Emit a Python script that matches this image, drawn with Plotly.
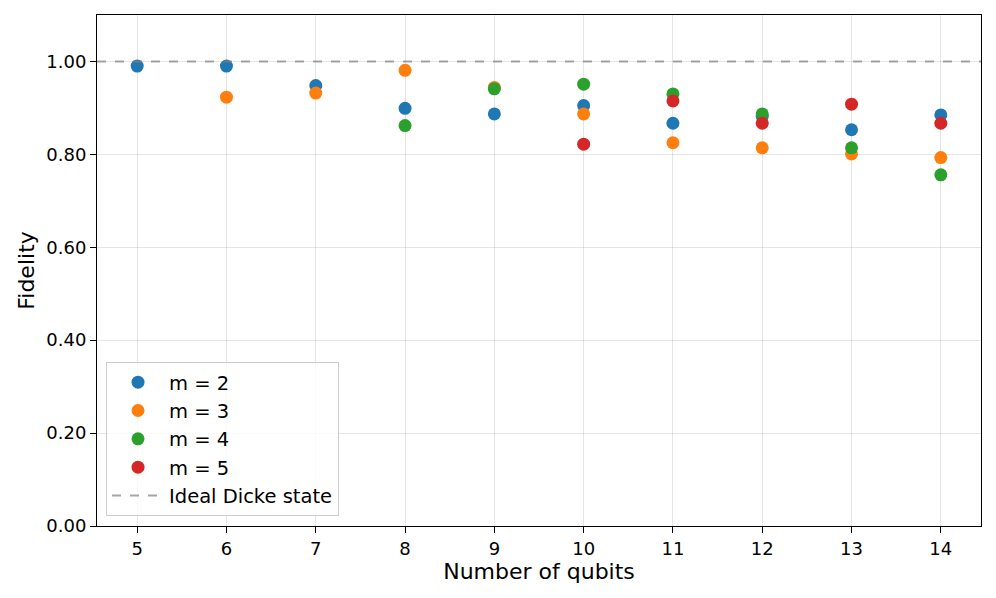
import plotly.graph_objects as go

qubits_m2 = [5, 6, 7, 8, 9, 10, 11, 12, 13, 14]
fid_m2 = [0.990, 0.990, 0.948, 0.899, 0.887, 0.905, 0.867, 0.882, 0.853, 0.885]
qubits_m3 = [6, 7, 8, 9, 10, 11, 12, 13, 14]
fid_m3 = [0.923, 0.932, 0.981, 0.944, 0.887, 0.825, 0.814, 0.801, 0.793]
qubits_m4 = [8, 9, 10, 11, 12, 13, 14]
fid_m4 = [0.862, 0.941, 0.951, 0.930, 0.887, 0.814, 0.756]
qubits_m5 = [10, 11, 12, 13, 14]
fid_m5 = [0.822, 0.915, 0.867, 0.908, 0.867]
ideal = 1.0

series = [
    ("m = 2", qubits_m2, fid_m2, "#1f77b4"),
    ("m = 3", qubits_m3, fid_m3, "#ff7f0e"),
    ("m = 4", qubits_m4, fid_m4, "#2ca02c"),
    ("m = 5", qubits_m5, fid_m5, "#d62728"),
]

font = "DejaVu Sans"
fig = go.Figure()
for name, xs, ys, col in series:
    fig.add_trace(go.Scatter(x=xs, y=ys, mode="markers", name=name,
                             marker=dict(color=col, size=13, line=dict(width=0))))
fig.add_trace(go.Scatter(x=[4.55, 14.45], y=[ideal, ideal], mode="lines",
                         name="Ideal Dicke state",
                         line=dict(color="rgba(128,128,128,0.7)", dash="dash", width=2)))

axis_common = dict(showline=True, linecolor="black", linewidth=1, mirror=True,
                   ticks="outside", ticklen=6, tickcolor="black",
                   showgrid=True, gridcolor="rgba(0,0,0,0.1)", gridwidth=1,
                   zeroline=False, tickfont=dict(size=18, color="black", family=font),
                   title_font=dict(size=22, color="black", family=font))

# page body has an 8px default margin; compensate so the plot area lands where the reference has it
fig.update_layout(
    width=988, height=590,
    margin=dict(l=89, r=15, t=7, b=72),
    paper_bgcolor="white", plot_bgcolor="white",
    font=dict(family=font, color="black"),
    xaxis=dict(axis_common, range=[4.55, 14.45], tickmode="array",
               tickvals=list(range(5, 15)), title=dict(text="Number of qubits", standoff=3)),
    yaxis=dict(axis_common, range=[0, 1.1], tickmode="array",
               tickvals=[0, 0.2, 0.4, 0.6, 0.8, 1.0], tickformat=".2f",
               title=dict(text="Fidelity", standoff=5)),
    legend=dict(x=0.0102, y=0.0196, xanchor="left", yanchor="bottom",
                bgcolor="rgba(255,255,255,0.8)", bordercolor="#cccccc", borderwidth=1,
                font=dict(size=19.5, family=font, color="black"),
                itemwidth=52),
    showlegend=True,
)

fig.write_html("out.html")
